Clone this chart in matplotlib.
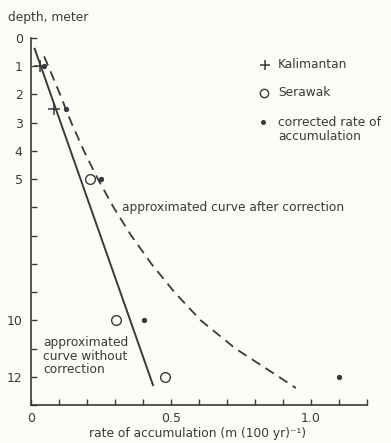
import numpy as np
import matplotlib
matplotlib.use("Agg")
import matplotlib.pyplot as plt

plt.rcParams["font.family"] = ["DejaVu Sans"]

# ── measured data ─────────────────────────────────────────
kal_rate = [0.032, 0.083]
kal_depth = [1.0, 2.5]

ser_rate = [0.21, 0.305, 0.477]
ser_depth = [5.0, 10.0, 12.0]

corr_rate = [0.045, 0.125, 0.25, 0.405, 1.10]
corr_depth = [1.0, 2.5, 5.0, 10.0, 12.0]

# fitted lines
raw_fit_rate = [0.012, 0.437]
raw_fit_depth = [0.35, 12.33]

corr_fit_rate = [0.047, 0.104, 0.144, 0.189, 0.239, 0.295, 0.358, 0.430,
                 0.512, 0.606, 0.730, 0.885, 0.946]
corr_fit_depth = [0.65, 2.0, 3.0, 4.0, 5.0, 6.0, 7.0, 8.0, 9.0, 10.0, 11.0,
                  12.0, 12.4]

y_ticks = np.arange(0, 14)
y_labels = ["0", "1", "2", "3", "4", "5", "", "", "", "", "10", "", "12", ""]
x_ticks = np.round(np.arange(0, 1.21, 0.1), 1)
x_labels = ["0", "", "", "", "", "0.5", "", "", "", "", "1.0", "", ""]

ink = "#3a3a3a"
bg = "#fbfbf7"
fs = 8.8

W, H = 391, 443
fig = plt.figure(figsize=(W / 100, H / 100), dpi=100, facecolor=bg)
ax = fig.add_axes([31 / W, 1 - 405 / H, 336 / W, 367 / H], facecolor=bg)

ax.plot(raw_fit_rate, raw_fit_depth, color=ink, lw=1.4, solid_capstyle="butt")
ax.plot(corr_fit_rate, corr_fit_depth, color=ink, lw=1.3,
        dashes=(5.5, 3.5))

ax.plot(kal_rate, kal_depth, ls="none", marker="+", ms=8, mew=1.1, color=ink)
ax.plot(ser_rate, ser_depth, ls="none", marker="o", ms=7, mew=1.0,
        mfc="none", mec=ink)
ax.plot(corr_rate, corr_depth, ls="none", marker="o", ms=2.8, color=ink)

ax.set_xlim(0, 1.2)
ax.set_ylim(13, 0)
ax.set_xticks(x_ticks)
ax.set_xticklabels(x_labels)
ax.set_yticks(y_ticks)
ax.set_yticklabels(y_labels)

for side in ("top", "right"):
    ax.spines[side].set_visible(False)
for side in ("left", "bottom"):
    ax.spines[side].set_color(ink)
    ax.spines[side].set_linewidth(1.2)

ax.tick_params(axis="both", direction="in", length=4, width=1.0, color=ink,
               labelcolor=ink, labelsize=9)
ax.tick_params(axis="x", pad=5)
ax.tick_params(axis="y", pad=6)

fig.text(198 / W, 1 - 434 / H, "rate of accumulation (m (100 yr)⁻¹)",
         fontsize=fs, color=ink, ha="center", va="center")
fig.text(8 / W, 1 - 17 / H, "depth, meter", fontsize=fs, color=ink,
         va="center", ha="left")

# legend drawn by hand
leg_items = [(65, "Kalimantan"), (93, "Serawak"), (122, "corrected rate of"),
             (137, "accumulation")]
for ypx, label in leg_items:
    fig.text(278 / W, 1 - ypx / H, label, fontsize=fs, color=ink, va="center")
fig.lines.append(plt.Line2D([265 / W], [1 - 65 / H], transform=fig.transFigure,
                            marker="+", ms=6.5, mew=1.1, color=ink))
fig.lines.append(plt.Line2D([264 / W], [1 - 93 / H], transform=fig.transFigure,
                            marker="o", ms=6, mew=1.0, mfc="none", mec=ink))
fig.lines.append(plt.Line2D([263 / W], [1 - 122 / H], transform=fig.transFigure,
                            marker="o", ms=2.6, color=ink))

ax.text(0.325, 6.0, "approximated curve after correction", fontsize=fs,
        color=ink, va="center")
ax.text(0.043, 11.27, "approximated\ncurve without\ncorrection", fontsize=fs,
        color=ink, va="center", linespacing=1.05)

plt.savefig("out.png", dpi=100, facecolor=bg)
